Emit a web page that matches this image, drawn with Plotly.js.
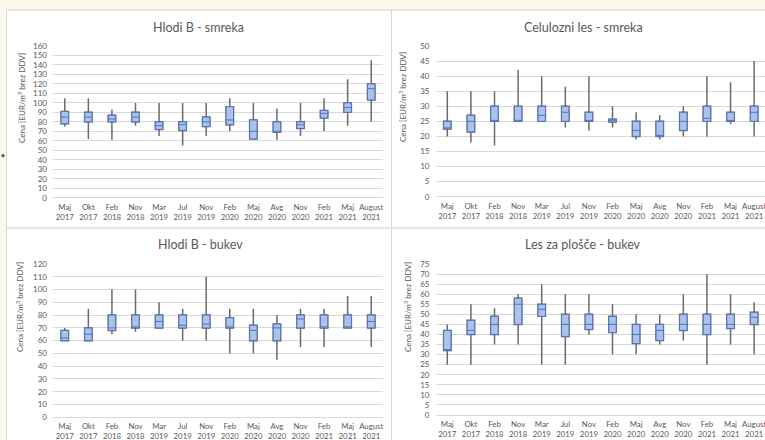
<!DOCTYPE html>
<html>
<head>
<meta charset="utf-8">
<script src="https://cdn.plot.ly/plotly-3.0.1.min.js"></script>
<style>html,body{margin:0;padding:0;background:#fdf8ec;}#chart{width:765px;height:440px;}</style>
</head>
<body>
<div id="chart"></div>
<script>
// ---- Data ----
var categories = ["Maj<br>2017","Okt<br>2017","Feb<br>2018","Nov<br>2018","Mar<br>2019","Jul<br>2019","Nov<br>2019","Feb<br>2020","Maj<br>2020","Avg<br>2020","Nov<br>2020","Feb<br>2021","Maj<br>2021","August<br>2021"];

var titles = ["Hlodi B - smreka", "Celulozni les - smreka", "Hlodi B - bukev", "Les za plošče - bukev"];
var yTitle = "Cena [EUR/m<sup>3</sup> brez DDV]";

// Hlodi B - smreka
var hsMin = [75,62,61,76,65,55,65,70,61,61,65,70,76,80];
var hsQ1  = [78,80,80,80,72,71,75,77,62,69,73,84,90,103];
var hsMed = [85,85,83,85,76,77,80,82,70,70,77,89,95,115];
var hsQ3  = [91,90,87,90,80,80,85,96,82,80,80,92,100,120];
var hsMax = [105,105,93,100,100,100,100,105,100,94,100,105,125,145];

// Celulozni les - smreka
var csMin = [20,18,17,25,25,23,22,23,19,19,20,20,24,20];
var csQ1  = [22.5,21.5,25,25,25,25,25,24.8,20,20,22,25,25,25];
var csMed = [22.5,25,25,25,27,28,25,25.4,22,20,25,26,25,28];
var csQ3  = [25,27,30,30,30,30,28,25.7,25,25,28,30,28,30];
var csMax = [35,35,35,42,40,36.5,40,30,28,27,30,40,38,45];

// Hlodi B - bukev
var hbMin = [60,60,65,67,70,60,60,50,50,45,55,55,70,55];
var hbQ1  = [60,60,68,70,70,70,70,70,60,60,70,70,70,70];
var hbMed = [62,65,70,70,75,72,73,70,68,70,77,70,70,75];
var hbQ3  = [68,70,80,80,80,80,80,78,72,73,80,80,80,80];
var hbMax = [70,85,100,100,90,85,110,85,85,80,85,85,95,95];

// Les za plošče - bukev
var lbMin = [25,25,35,35,25,25,40,30,30,35,37,25,35,30];
var lbQ1  = [32,40,40,45,49,39,42.5,41,35.5,37,42,40,43,45];
var lbMed = [32,42,45,55,52.5,45,45,45,40,42,45,45,45,48.5];
var lbQ3  = [42,47,49,58,55,50,50,49,45,45,50,50,50,51];
var lbMax = [45,55,53,60,65,60,60,55,50,50,60,70,60,56];

var yMax = [160, 50, 120, 75];
var yStep = [10, 5, 10, 5];

// ---- Build ----
var W = 765, H = 440;
function px(x){ return x / W; }
function py(y){ return 1 - y / H; }

var grey = '#595959';
var font = 'Lato, "Open Sans", sans-serif';

var panels = [
  {mn: hsMin, q1: hsQ1, md: hsMed, q3: hsQ3, mx: hsMax},
  {mn: csMin, q1: csQ1, md: csMed, q3: csQ3, mx: csMax},
  {mn: hbMin, q1: hbQ1, md: hbMed, q3: hbQ3, mx: hbMax},
  {mn: lbMin, q1: lbQ1, md: lbMed, q3: lbQ3, mx: lbMax}
];

var xDom = [[px(53), px(383)], [px(435.5), 1], [px(53), px(383)], [px(435.5), 1]];
var xRange = [[-0.5, 13.5], [-0.5, 13.46], [-0.5, 13.5], [-0.5, 13.46]];
var yDom = [[py(197.7), py(46)], [py(196.7), py(46)], [py(417.3), py(264)], [py(415), py(264)]];

var data = [];
var layout = {
  width: W, height: H,
  margin: {l: 0, r: 0, t: 0, b: 0},
  paper_bgcolor: '#fdf8ec',
  plot_bgcolor: 'rgba(0,0,0,0)',
  showlegend: false,
  boxgap: 0.55,
  boxmode: 'overlay',
  font: {family: font, color: grey, size: 8},
  shapes: [],
  annotations: []
};

panels.forEach(function(p, i){
  var n = i + 1;
  var xa = 'x' + (n === 1 ? '' : n);
  var ya = 'y' + (n === 1 ? '' : n);
  // whiskers (grey)
  data.push({
    type: 'box', x: categories, q1: p.q1, median: p.md, q3: p.q3,
    lowerfence: p.mn, upperfence: p.mx,
    xaxis: xa, yaxis: ya,
    line: {color: '#6a6a6a', width: 1.5},
    fillcolor: 'rgba(0,0,0,0)', whiskerwidth: 0, hoverinfo: 'skip'
  });
  // boxes (blue)
  data.push({
    type: 'box', x: categories, q1: p.q1, median: p.md, q3: p.q3,
    lowerfence: p.q1, upperfence: p.q3,
    xaxis: xa, yaxis: ya,
    line: {color: '#4f74c2', width: 1},
    fillcolor: '#abc3ea', whiskerwidth: 0
  });
  layout['xaxis' + (n === 1 ? '' : n)] = {
    domain: xDom[i], anchor: ya, type: 'category', range: xRange[i],
    showgrid: false, zeroline: false, showline: false, ticks: '',
    ticklabelstandoff: 3,
    tickfont: {size: 7.8, color: grey, family: font}, fixedrange: true
  };
  layout['yaxis' + (n === 1 ? '' : n)] = {
    domain: yDom[i], anchor: xa, range: [0, yMax[i]], dtick: yStep[i], tick0: 0,
    showgrid: true, gridcolor: '#d9d9d9', gridwidth: 1,
    zeroline: true, zerolinecolor: '#d9d9d9', zerolinewidth: 1,
    showline: false, ticks: '', ticklabelstandoff: 5,
    tickfont: {size: 8, color: grey, family: font}, fixedrange: true
  };
});

// Panel frames
var frames = [[6.5, 10, 391.5, 228], [391.5, 10, 766, 228], [6.5, 228, 391.5, 441], [391.5, 228, 766, 441]];
frames.forEach(function(f){
  layout.shapes.push({type: 'rect', xref: 'paper', yref: 'paper', layer: 'below',
    x0: px(f[0]), x1: px(f[2]), y0: py(f[3]), y1: py(f[1]),
    line: {color: '#d6d6d6', width: 1}, fillcolor: '#ffffff'});
});

// Titles
var titlePos = [[198, 27], [583, 27], [200, 244], [583, 245]];
titles.forEach(function(t, i){
  layout.annotations.push({text: t, xref: 'paper', yref: 'paper', x: px(titlePos[i][0]), y: py(titlePos[i][1]),
    showarrow: false, xanchor: 'center', yanchor: 'middle', font: {size: 12.5, color: grey, family: font}});
});

// Y axis titles
var ytPos = [[22, 98], [402, 97], [19, 307], [407, 307]];
ytPos.forEach(function(p){
  layout.annotations.push({text: yTitle, xref: 'paper', yref: 'paper', x: px(p[0]), y: py(p[1]),
    showarrow: false, textangle: -90, xanchor: 'center', yanchor: 'middle', font: {size: 8, color: grey, family: font}});
});

// small marker at left edge
layout.annotations.push({text: '◆', xref: 'paper', yref: 'paper', x: px(2.5), y: py(155), showarrow: false,
  xanchor: 'center', yanchor: 'middle', font: {size: 5, color: '#2f4f8f'}});

Plotly.newPlot('chart', data, layout, {displayModeBar: false, staticPlot: true});
</script>
</body>
</html>
